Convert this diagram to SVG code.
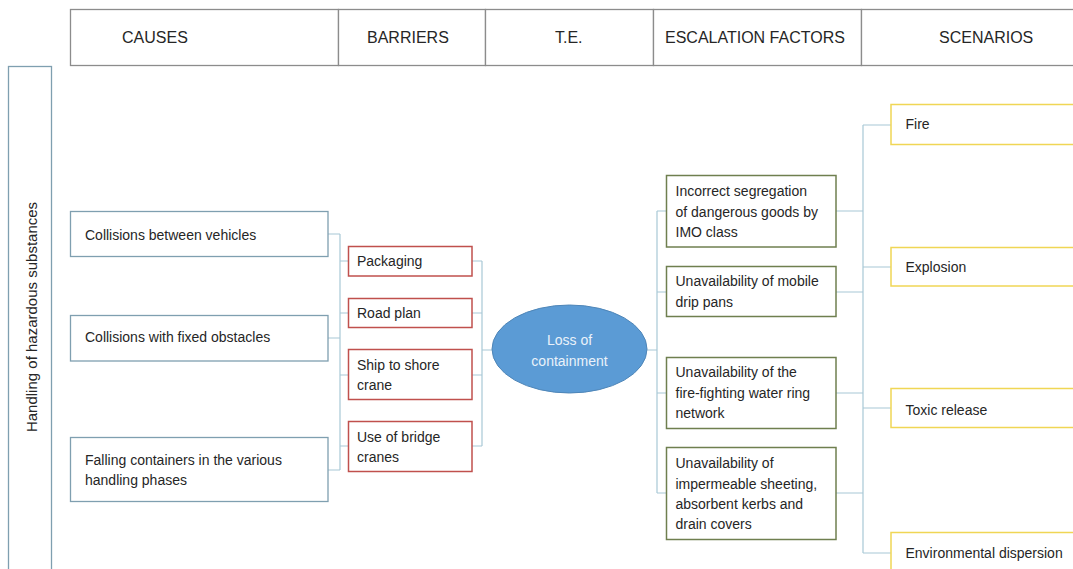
<svg xmlns="http://www.w3.org/2000/svg" width="1073" height="569" viewBox="0 0 1073 569">
<style>
text{font-family:"Liberation Sans",Arial,sans-serif;fill:#262626}
.hd{font-size:16px}
.t{font-size:14px}
.hcell{fill:#fff;stroke:#8c8c8c;stroke-width:1.3}
.cause{fill:#fff;stroke:#7f9fb0;stroke-width:1.3}
.bar{fill:#fff;stroke:#c0504d;stroke-width:1.5}
.esc{fill:#fff;stroke:#6f7f4f;stroke-width:1.5}
.scn{fill:#fff;stroke:#f0d655;stroke-width:1.5}
.con{fill:none;stroke:#a8c8d6;stroke-width:1.2}
</style>
<rect width="1073" height="569" fill="#fff"/>
<g id="header">
<rect class="hcell" x="70.5" y="9.5" width="268" height="56"/>
<rect class="hcell" x="338.5" y="9.5" width="147" height="56"/>
<rect class="hcell" x="485.5" y="9.5" width="168" height="56"/>
<rect class="hcell" x="653.5" y="9.5" width="208" height="56"/>
<rect class="hcell" x="861.5" y="9.5" width="220" height="56"/>
<text class="hd" x="122" y="43">CAUSES</text>
<text class="hd" x="367" y="43">BARRIERS</text>
<text class="hd" x="555" y="43">T.E.</text>
<text class="hd" x="665" y="43">ESCALATION FACTORS</text>
<text class="hd" x="939" y="43">SCENARIOS</text>
</g>
<g id="side-label">
<rect x="8.5" y="66.5" width="43" height="510" fill="#fff" stroke="#7f9fb0" stroke-width="1.3"/>
<text class="t" style="font-size:15px" transform="translate(37,317) rotate(-90)" text-anchor="middle">Handling of hazardous substances</text>
</g>
<g id="connectors">
<path class="con" d="M328 234H340M328 338H340M328 470H340M340 234V470M340 261H349M340 313H349M340 375H349M340 446H349"/>
<path class="con" d="M472 261H482M472 313H482M472 375H482M472 446H482M482 261V446M482 350H492"/>
<path class="con" d="M647 350H657M657 211V493M657 211H667M657 292H667M657 393H667M657 493H667"/>
<path class="con" d="M836 211H863M836 292H863M836 393H863M836 493H863M863 125V553M863 125H891M863 267H891M863 408H891M863 553H891"/>
</g>
<g id="cause-1">
<rect class="cause" x="70.5" y="211.5" width="257.5" height="45"/>
<text class="t" x="85" y="240">Collisions between vehicles</text>
</g>
<g id="cause-2">
<rect class="cause" x="70.5" y="315.5" width="257.5" height="45.5"/>
<text class="t" x="85" y="342">Collisions with fixed obstacles</text>
</g>
<g id="cause-3">
<rect class="cause" x="70.5" y="437.5" width="257.5" height="64"/>
<text class="t" x="85" y="464.5">Falling containers in the various</text>
<text class="t" x="85" y="484.5">handling phases</text>
</g>
<g id="barrier-1">
<rect class="bar" x="348.5" y="246.5" width="123.5" height="29.5"/>
<text class="t" x="357" y="266">Packaging</text>
</g>
<g id="barrier-2">
<rect class="bar" x="348.5" y="298.5" width="123.5" height="29"/>
<text class="t" x="357" y="317.5">Road plan</text>
</g>
<g id="barrier-3">
<rect class="bar" x="348.5" y="349.5" width="123.5" height="50"/>
<text class="t" x="357" y="369.5">Ship to shore</text>
<text class="t" x="357" y="390">crane</text>
</g>
<g id="barrier-4">
<rect class="bar" x="348.5" y="421.5" width="123.5" height="50"/>
<text class="t" x="357" y="442">Use of bridge</text>
<text class="t" x="357" y="462">cranes</text>
</g>
<g id="top-event">
<ellipse cx="569.5" cy="349" rx="77.5" ry="44" fill="#5b9bd5" stroke="#4f86b8" stroke-width="1"/>
<text class="t" x="569.5" y="345" text-anchor="middle" style="fill:#eaf2fa">Loss of</text>
<text class="t" x="569.5" y="366" text-anchor="middle" style="fill:#eaf2fa">containment</text>
</g>
<g id="esc-1">
<rect class="esc" x="666.5" y="175.5" width="169.5" height="71.5"/>
<text class="t" x="675.5" y="196">Incorrect segregation</text>
<text class="t" x="675.5" y="216.5">of dangerous goods by</text>
<text class="t" x="675.5" y="236.5">IMO class</text>
</g>
<g id="esc-2">
<rect class="esc" x="666.5" y="266.5" width="169.5" height="50"/>
<text class="t" x="675.5" y="286">Unavailability of mobile</text>
<text class="t" x="675.5" y="306.5">drip pans</text>
</g>
<g id="esc-3">
<rect class="esc" x="666.5" y="357.5" width="169.5" height="71"/>
<text class="t" x="675.5" y="377">Unavailability of the</text>
<text class="t" x="675.5" y="397.5">fire-fighting water ring</text>
<text class="t" x="675.5" y="418">network</text>
</g>
<g id="esc-4">
<rect class="esc" x="666.5" y="447.5" width="169.5" height="92"/>
<text class="t" x="675.5" y="467.5">Unavailability of</text>
<text class="t" x="675.5" y="488.5">impermeable sheeting,</text>
<text class="t" x="675.5" y="508.5">absorbent kerbs and</text>
<text class="t" x="675.5" y="529">drain covers</text>
</g>
<g id="scn-1">
<rect class="scn" x="891" y="104.5" width="190" height="40"/>
<text class="t" x="905.5" y="129">Fire</text>
</g>
<g id="scn-2">
<rect class="scn" x="891" y="247.5" width="190" height="38.5"/>
<text class="t" x="905.5" y="272">Explosion</text>
</g>
<g id="scn-3">
<rect class="scn" x="891" y="388.5" width="190" height="39"/>
<text class="t" x="905.5" y="414.5">Toxic release</text>
</g>
<g id="scn-4">
<rect class="scn" x="891" y="532.5" width="190" height="50"/>
<text class="t" x="905.5" y="558">Environmental dispersion</text>
</g>
</svg>
